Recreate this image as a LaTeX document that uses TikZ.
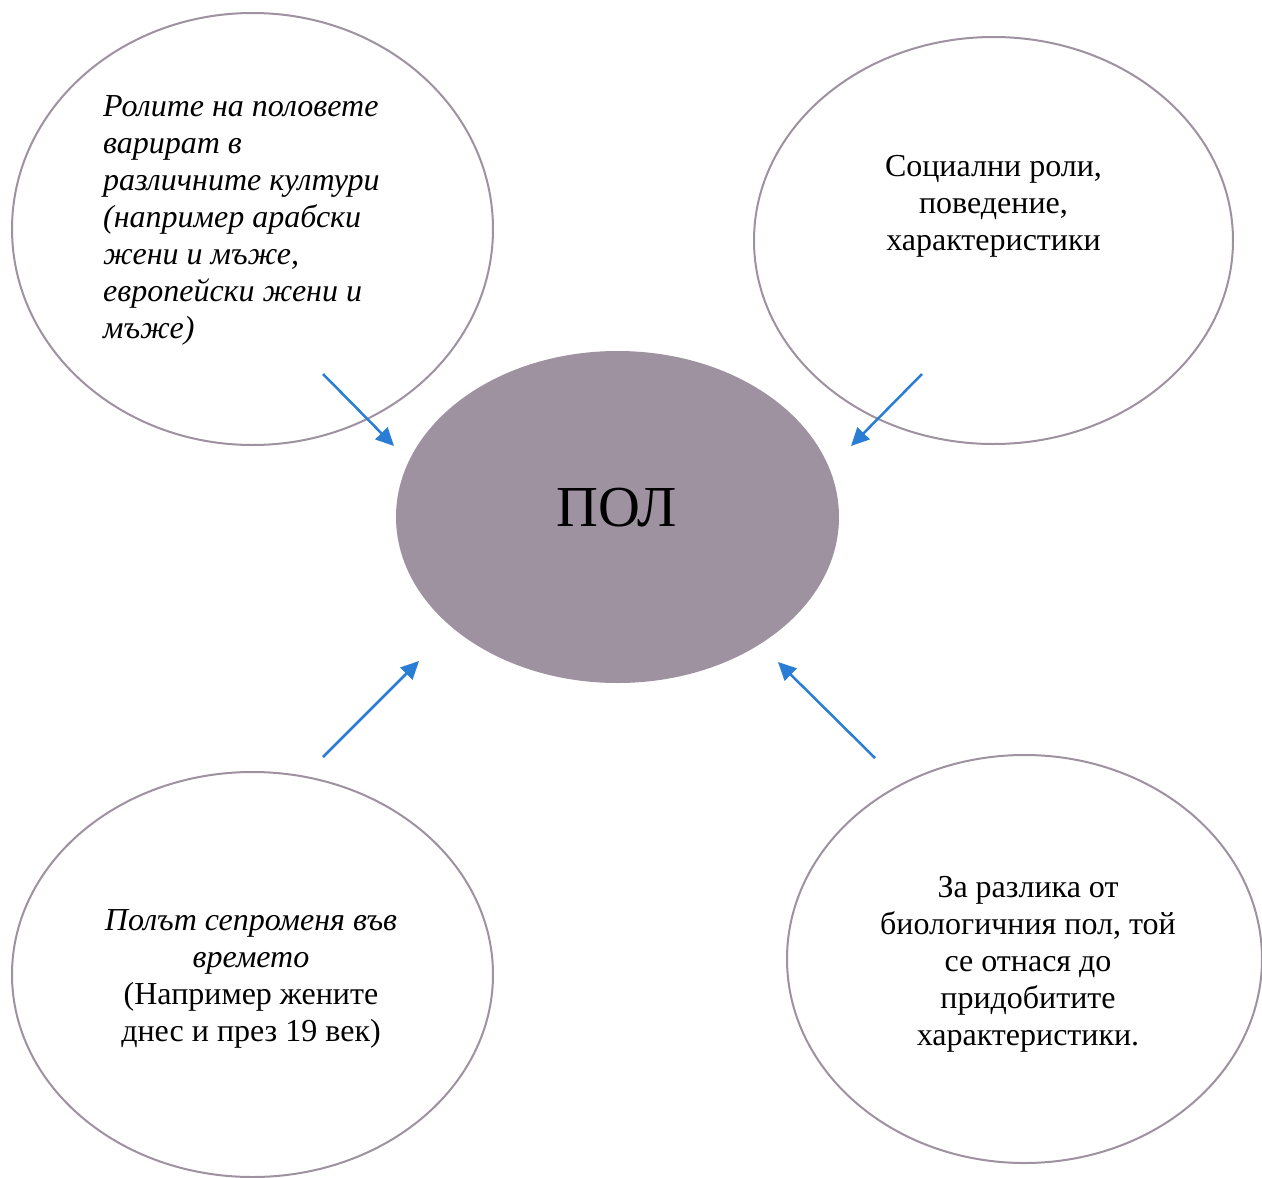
\documentclass[tikz,border=0pt]{standalone}
\usepackage{fontspec}
\setmainfont{Liberation Serif}
\usetikzlibrary{shapes.geometric,arrows.meta}
\definecolor{ringc}{RGB}{158,145,160}
\definecolor{arrowc}{RGB}{42,125,212}
\tikzset{
  ring/.style={ellipse, draw=ringc, line width=2pt, inner sep=0pt},
  hub/.style={ellipse, fill=ringc, draw=none, inner sep=0pt},
  txt/.style={inner sep=0pt, font=\fontsize{32}{37}\selectfont},
  link/.style={draw=arrowc, line width=2.5pt, -{Triangle[length=18pt,width=17pt]}}
}
\begin{document}
\begin{tikzpicture}[x=1pt,y=-1pt]
\useasboundingbox (0,0) rectangle (1262,1178);
\fill[white] (0,0) rectangle (1262,1178);
% ellipses
\node[ring, minimum width=481pt, minimum height=432pt] (tl) at (252.5,229) {};
\node[ring, minimum width=479pt, minimum height=407pt] (tr) at (993.5,240.5) {};
\node[ring, minimum width=481pt, minimum height=405pt] (bl) at (252.5,974.5) {};
\node[ring, minimum width=475pt, minimum height=408pt] (br) at (1024.5,959) {};
\node[hub, minimum width=443pt, minimum height=332pt] (c) at (617.5,517) {};
% texts
\node[txt, anchor=west, align=left, font=\fontsize{32}{37}\selectfont\itshape] (tltext) at (103,220)
  {Ролите на половете\\варират в\\различните култури\\(например арабски\\жени и мъже,\\европейски жени и\\мъже)};
\node[txt, align=center] (trtext) at (993.5,206)
  {Социални роли,\\поведение,\\характеристики};
\node[txt, align=center] (bltext) at (251,979)
  {\textit{Полът сепроменя във}\\\textit{времето}\\(Например жените\\днес и през 19 век)};
\node[txt, align=center] (brtext) at (1028,964)
  {За разлика от\\биологичния пол, той\\се отнася до\\придобитите\\характеристики.};
\node[inner sep=0pt, font=\fontsize{58}{60}\selectfont] (ctext) at (617,508) {ПОЛ};
% arrow ends
\coordinate (a1s) at (323,374); \coordinate (a1e) at (394,446);
\coordinate (a2s) at (922,374); \coordinate (a2e) at (851,446);
\coordinate (a3s) at (323,757); \coordinate (a3e) at (419,661);
\coordinate (a4s) at (875,758); \coordinate (a4e) at (778,662);
\draw[link] (a1s) -- (a1e);
\draw[link] (a2s) -- (a2e);
\draw[link] (a3s) -- (a3e);
\draw[link] (a4s) -- (a4e);
\end{tikzpicture}
\end{document}
